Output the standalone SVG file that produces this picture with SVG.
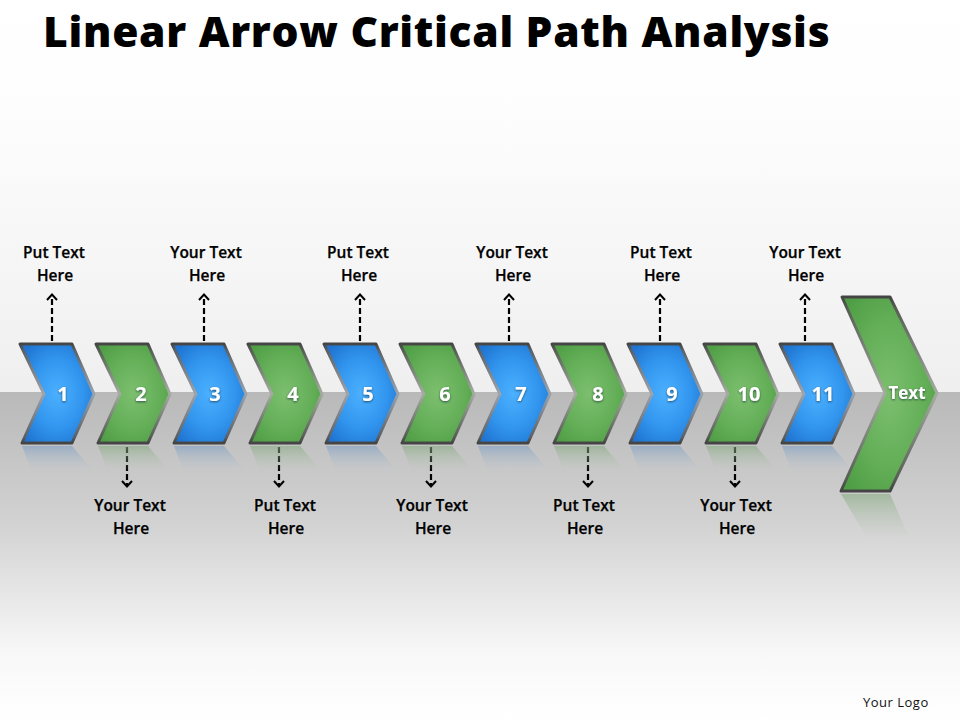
<svg xmlns="http://www.w3.org/2000/svg" width="960" height="720" viewBox="0 0 960 720">
<style>
.t{font-family:"Open Sans","Liberation Sans",sans-serif;font-weight:700;fill:#000}
.title{font-size:42.5px;letter-spacing:.7px;font-weight:800}
.lab{font-size:15.5px;font-weight:600;text-anchor:middle;stroke:#000;stroke-width:.25px}
.num{font-family:"Open Sans","Liberation Sans",sans-serif;font-weight:700;font-size:20px;fill:#fff;text-anchor:middle;filter:url(#ts)}
.logo{font-family:"Open Sans","Liberation Sans",sans-serif;font-size:13px;fill:#111}
.b{fill:url(#blue);stroke:url(#edgeB);stroke-width:3;stroke-linejoin:round}
.g{fill:url(#green);stroke:url(#edgeG);stroke-width:3;stroke-linejoin:round}
.rb{fill:url(#refB)}
.rg{fill:url(#refG)}
.c{stroke:#000;stroke-width:2.2;stroke-dasharray:6 3;fill:none}
.u{marker-end:url(#head)}
.d{marker-end:url(#headd)}
</style>
<defs>
<linearGradient id="top" x1="0" y1="0" x2="0" y2="1"><stop offset="0" stop-color="#fff"/><stop offset=".3" stop-color="#fdfdfd"/><stop offset="1" stop-color="#efefef"/></linearGradient>
<linearGradient id="bot" x1="0" y1="0" x2="0" y2="1"><stop offset="0" stop-color="#b9b9b9"/><stop offset=".4" stop-color="#d2d2d2"/><stop offset=".8" stop-color="#f8f8f8"/><stop offset="1" stop-color="#fff"/></linearGradient>
<radialGradient id="blue" cx=".5" cy=".5" r=".62"><stop offset="0" stop-color="#4cb0ff"/><stop offset=".55" stop-color="#3296ef"/><stop offset="1" stop-color="#1e74d0"/></radialGradient>
<radialGradient id="green" cx=".5" cy=".5" r=".62"><stop offset="0" stop-color="#7cbf6e"/><stop offset=".55" stop-color="#66b05a"/><stop offset="1" stop-color="#4f9e45"/></radialGradient>
<linearGradient id="edgeB" x1="0" y1="0" x2="0" y2="1"><stop offset="0" stop-color="#444"/><stop offset=".06" stop-color="#5a6068"/><stop offset=".5" stop-color="#9aa4ae"/><stop offset=".94" stop-color="#5a6068"/><stop offset="1" stop-color="#444"/></linearGradient>
<linearGradient id="edgeG" x1="0" y1="0" x2="0" y2="1"><stop offset="0" stop-color="#444"/><stop offset=".06" stop-color="#565e54"/><stop offset=".5" stop-color="#a3ac9f"/><stop offset=".94" stop-color="#565e54"/><stop offset="1" stop-color="#444"/></linearGradient>
<linearGradient id="refB" x1="0" y1="0" x2="0" y2="1"><stop offset="0" stop-color="#7f9fc4" stop-opacity=".6"/><stop offset="1" stop-color="#b9c4d0" stop-opacity="0"/></linearGradient>
<linearGradient id="refG" x1="0" y1="0" x2="0" y2="1"><stop offset="0" stop-color="#86ac80" stop-opacity=".6"/><stop offset="1" stop-color="#bcc8ba" stop-opacity="0"/></linearGradient>
<filter id="ts" x="-30%" y="-30%" width="160%" height="160%"><feDropShadow dx="0" dy="1" stdDeviation=".8" flood-color="#123" flood-opacity=".7"/></filter>
<polygon id="ch" points="20,344 72,344 94,394 72,443 22,443 44,394"/>
<polygon id="chr" points="22,446 72,446 94,472 32,472"/>
<marker id="head" markerWidth="12" markerHeight="12" refX="6" refY="2" orient="0" markerUnits="userSpaceOnUse" viewBox="0 0 12 12"><path d="M1 7 L6 1.500 L11 7" fill="none" stroke="#000" stroke-width="2"/></marker>
<marker id="headd" markerWidth="12" markerHeight="12" refX="6" refY="10" orient="0" markerUnits="userSpaceOnUse" viewBox="0 0 12 12"><path d="M1 5 L6 10.500 L11 5" fill="none" stroke="#000" stroke-width="2"/></marker>
</defs>

<g id="background">
<rect x="0" y="0" width="960" height="392" fill="url(#top)"/>
<rect x="0" y="392" width="960" height="328" fill="url(#bot)"/>
</g>

<text class="t title" x="43" y="47">Linear Arrow Critical Path Analysis</text>

<g id="connectors">
<line class="c u" x1="52" y1="341" x2="52" y2="295"/>
<line class="c u" x1="204" y1="341" x2="204" y2="295"/>
<line class="c u" x1="360" y1="341" x2="360" y2="295"/>
<line class="c u" x1="509" y1="341" x2="509" y2="295"/>
<line class="c u" x1="660" y1="341" x2="660" y2="295"/>
<line class="c u" x1="805" y1="341" x2="805" y2="295"/>
<line class="c d" x1="127" y1="447" x2="127" y2="486"/>
<line class="c d" x1="279" y1="447" x2="279" y2="486"/>
<line class="c d" x1="431" y1="447" x2="431" y2="486"/>
<line class="c d" x1="588" y1="447" x2="588" y2="486"/>
<line class="c d" x1="735" y1="447" x2="735" y2="486"/>
</g>

<g id="node-1"><use href="#chr" class="rb"/><use href="#ch" class="b"/><text class="num" x="63" y="401">1</text></g>
<g id="node-2" transform="translate(76 0)"><use href="#chr" class="rg"/><use href="#ch" class="g"/><text class="num" x="65" y="401">2</text></g>
<g id="node-3" transform="translate(152 0)"><use href="#chr" class="rb"/><use href="#ch" class="b"/><text class="num" x="63" y="401">3</text></g>
<g id="node-4" transform="translate(228 0)"><use href="#chr" class="rg"/><use href="#ch" class="g"/><text class="num" x="65" y="401">4</text></g>
<g id="node-5" transform="translate(304 0)"><use href="#chr" class="rb"/><use href="#ch" class="b"/><text class="num" x="64" y="401">5</text></g>
<g id="node-6" transform="translate(380 0)"><use href="#chr" class="rg"/><use href="#ch" class="g"/><text class="num" x="65" y="401">6</text></g>
<g id="node-7" transform="translate(456 0)"><use href="#chr" class="rb"/><use href="#ch" class="b"/><text class="num" x="65" y="401">7</text></g>
<g id="node-8" transform="translate(532 0)"><use href="#chr" class="rg"/><use href="#ch" class="g"/><text class="num" x="66" y="401">8</text></g>
<g id="node-9" transform="translate(608 0)"><use href="#chr" class="rb"/><use href="#ch" class="b"/><text class="num" x="64" y="401">9</text></g>
<g id="node-10" transform="translate(684 0)"><use href="#chr" class="rg"/><use href="#ch" class="g"/><text class="num" x="65" y="401">10</text></g>
<g id="node-11" transform="translate(760 0)"><use href="#chr" class="rb"/><use href="#ch" class="b"/><text class="num" x="63" y="401">11</text></g>
<g id="node-text">
<polygon class="rg" points="841,494 890,494 908,535 868,540"/>
<polygon class="g" points="842,297 890,297 937,393 890,491 841,491 885,393"/>
<text class="num" x="907" y="399" style="font-size:17px">Text</text>
</g>

<g id="labels">
<text class="t lab" x="54" y="258">Put Text</text><text class="t lab" x="55" y="281">Here</text>
<text class="t lab" x="206" y="258">Your Text</text><text class="t lab" x="207" y="281">Here</text>
<text class="t lab" x="358" y="258">Put Text</text><text class="t lab" x="359" y="281">Here</text>
<text class="t lab" x="512" y="258">Your Text</text><text class="t lab" x="513" y="281">Here</text>
<text class="t lab" x="661" y="258">Put Text</text><text class="t lab" x="662" y="281">Here</text>
<text class="t lab" x="805" y="258">Your Text</text><text class="t lab" x="806" y="281">Here</text>
<text class="t lab" x="130" y="511">Your Text</text><text class="t lab" x="131" y="534">Here</text>
<text class="t lab" x="285" y="511">Put Text</text><text class="t lab" x="286" y="534">Here</text>
<text class="t lab" x="432" y="511">Your Text</text><text class="t lab" x="433" y="534">Here</text>
<text class="t lab" x="584" y="511">Put Text</text><text class="t lab" x="585" y="534">Here</text>
<text class="t lab" x="736" y="511">Your Text</text><text class="t lab" x="737" y="534">Here</text>
</g>

<text class="logo" x="863" y="707" letter-spacing=".5">Your Logo</text>
</svg>
